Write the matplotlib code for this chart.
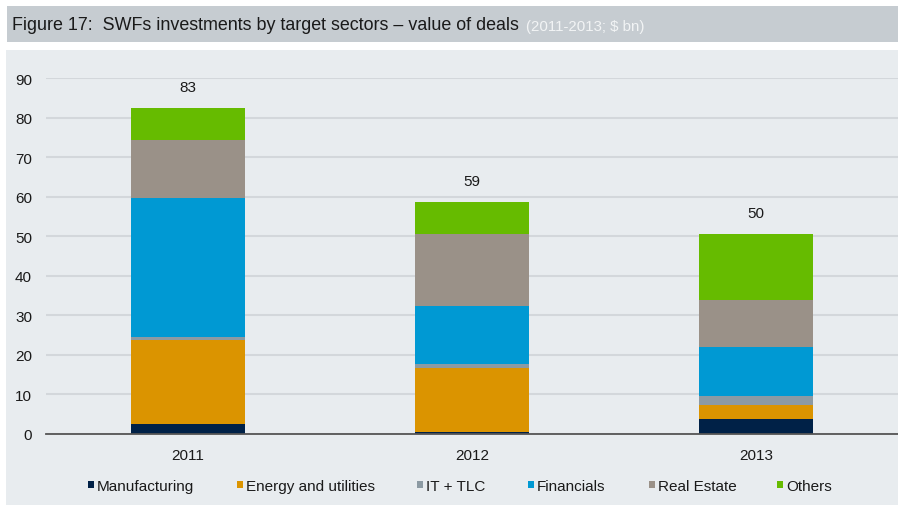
import matplotlib
matplotlib.use("Agg")
import matplotlib.pyplot as plt
from matplotlib.patches import Rectangle
import numpy as np

plt.rcParams['font.family'] = ['Liberation Sans', 'DejaVu Sans']

years = ["2011", "2012", "2013"]
totals = [83, 59, 50]
sectors = ["Manufacturing", "Energy and utilities", "IT + TLC", "Financials", "Real Estate", "Others"]
manufacturing = [2.5, 0.5, 3.7]
energy = [21.2, 16.1, 3.7]
it_tlc = [0.8, 1.1, 2.3]
financials = [35.2, 14.8, 12.2]
real_estate = [14.7, 18.0, 12.0]
others = [8.0, 8.1, 16.6]
series = [manufacturing, energy, it_tlc, financials, real_estate, others]
colors = ["#002147", "#DB9400", "#8C9AA3", "#0099D3", "#9A9188", "#66BB00"]

W, H = 898, 506
fig = plt.figure(figsize=(W / 100, H / 100), dpi=100)
fig.patch.set_facecolor("white")

# title band
fig.patches.append(Rectangle((7 / W, 1 - 43 / H), 1, 36 / H, transform=fig.transFigure,
                             facecolor="#C6CCD1", edgecolor="none", zorder=-10))
# panel
fig.patches.append(Rectangle((6 / W, 0), 1, 1 - 51 / H, transform=fig.transFigure,
                             facecolor="#E8ECEF", edgecolor="none", zorder=-10))

fig.text(12 / W, 1 - 26 / H, "Figure 17:  SWFs investments by target sectors \u2013 value of deals",
         fontsize=12.9, color="#1a1a1a", va="center", ha="left")
fig.text(526 / W, 1 - 27 / H, "(2011-2013; $ bn)", fontsize=10.8, color="#F2F4F5",
         va="center", ha="left")

ax = fig.add_axes([46 / W, 1 - 435 / H, (W - 46) / W, (435 - 79.3) / H])
ax.set_facecolor("none")
x = np.arange(len(years))
bottom = np.zeros(len(years))
for vals, col, name in zip(series, colors, sectors):
    ax.bar(x, vals, width=0.4, bottom=bottom, color=col, label=name, zorder=3, linewidth=0)
    bottom += np.array(vals)

for xi, t, b in zip(x, totals, bottom):
    ax.text(xi, b + 5.3, str(t), ha="center", va="center", fontsize=11, color="#1a1a1a")

ax.set_xlim(-0.5, 2.5)
ax.set_ylim(0, 90)
ax.set_yticks(np.arange(0, 91, 10))
ax.set_xticks(x)
ax.set_xticklabels(years)
ax.tick_params(axis="both", length=0, labelsize=11, colors="#1a1a1a")
ax.tick_params(axis="y", pad=10)
ax.tick_params(axis="x", pad=10)
ax.grid(axis="y", color="#D3D7DB", linewidth=1.5, zorder=0)
for s in ["top", "right", "left"]:
    ax.spines[s].set_visible(False)
ax.spines["bottom"].set_color("#555555")
ax.spines["bottom"].set_linewidth(1.3)
ax.spines["bottom"].set_zorder(4)

# legend (manually laid out to match reference spacing)
legend_px = [88, 237, 417, 528, 649, 777]
ly = 1 - 487 / H
for px, c, name in zip(legend_px, colors, sectors):
    fig.patches.append(Rectangle((px / W, ly - 2 / H), 6 / W, 7 / H, transform=fig.transFigure,
                                 facecolor=c, edgecolor="none", zorder=5))
    fig.text((px + 9) / W, ly, name, fontsize=11, color="#1a1a1a", va="center", ha="left")

fig.savefig("out.png", dpi=100, facecolor=fig.get_facecolor())
